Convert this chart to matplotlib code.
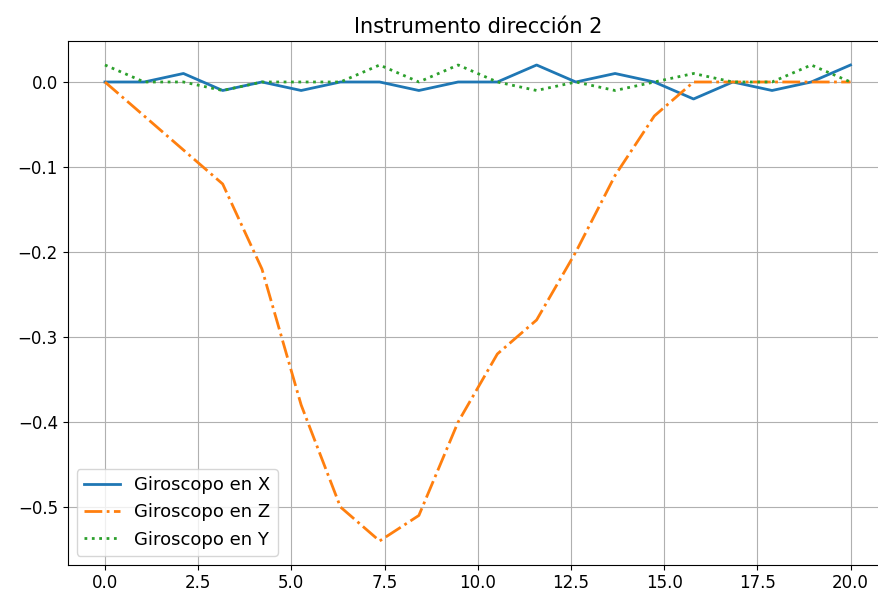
import matplotlib
matplotlib.use("Agg")
import matplotlib.pyplot as plt

# sample times (s)
tiempo = [0.0, 1.053, 2.105, 3.158, 4.211, 5.263, 6.316, 7.368, 8.421, 9.474,
          10.526, 11.579, 12.632, 13.684, 14.737, 15.789, 16.842, 17.895,
          18.947, 20.0]

giro_x = [0.0, 0.0, 0.01, -0.01, 0.0, -0.01, 0.0, 0.0, -0.01, 0.0,
          0.0, 0.02, 0.0, 0.01, 0.0, -0.02, 0.0, -0.01, 0.0, 0.02]
giro_z = [0.0, -0.04, -0.08, -0.12, -0.22, -0.38, -0.50, -0.54, -0.51, -0.40,
          -0.32, -0.28, -0.20, -0.11, -0.04, 0.0, 0.0, 0.0, 0.0, 0.0]
giro_y = [0.02, 0.0, 0.0, -0.01, 0.0, 0.0, 0.0, 0.02, 0.0, 0.02,
          0.0, -0.01, 0.0, -0.01, 0.0, 0.01, 0.0, 0.0, 0.02, 0.0]

fig, ax = plt.subplots(figsize=(8.79, 5.97), dpi=100)
ax.plot(tiempo, giro_x, "-", linewidth=2, label="Giroscopo en X")
ax.plot(tiempo, giro_z, "-.", linewidth=2, label="Giroscopo en Z")
ax.plot(tiempo, giro_y, ":", linewidth=2, label="Giroscopo en Y")
ax.set_title("Instrumento dirección 2", fontsize=15)
ax.tick_params(labelsize=12)
ax.grid(True)
ax.legend(loc="lower left", fontsize=13)
# the original figure is cropped just past the right spine
fig.subplots_adjust(left=0.077, right=1.01, top=0.931, bottom=0.054)
fig.savefig("out.png")
